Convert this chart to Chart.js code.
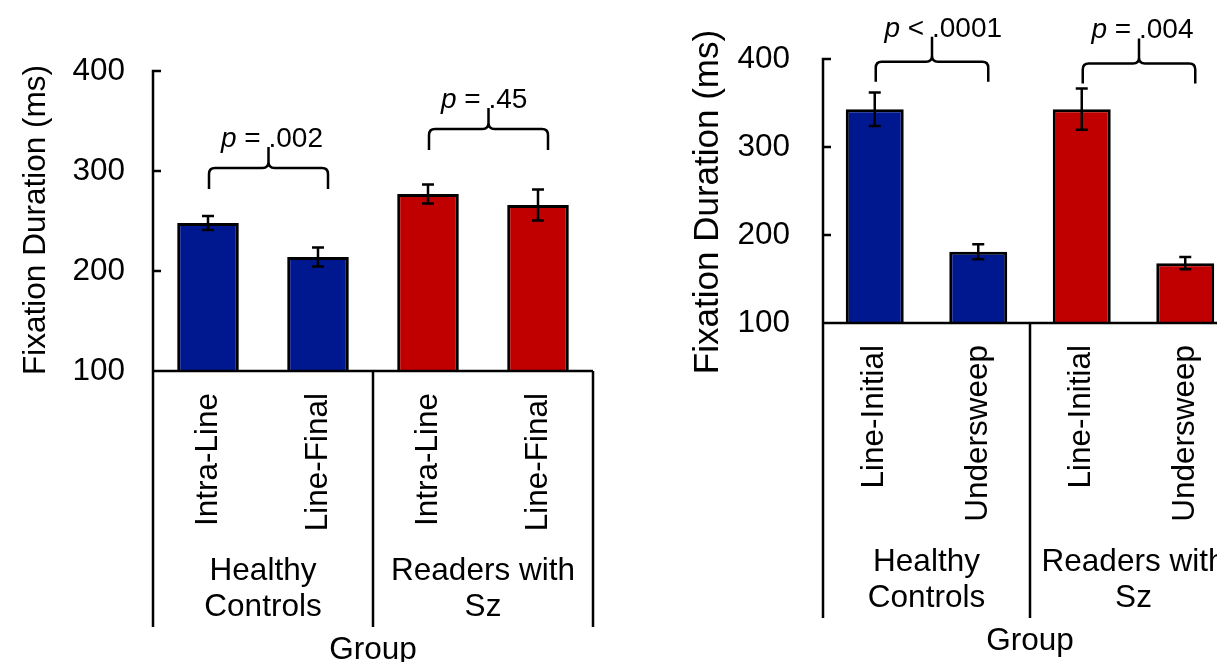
<!DOCTYPE html>
<html>
<head>
<meta charset="utf-8">
<script src="https://cdn.jsdelivr.net/npm/chart.js@4"></script>
<style>
html, body { margin: 0; padding: 0; width: 1217px; height: 662px; overflow: hidden; background: #fff; }
canvas { position: absolute; top: 0; }
#left { left: 0; }
#right { left: 660px; }
</style>
</head>
<body>
<canvas id="left" width="660" height="700"></canvas>
<canvas id="right" width="600" height="700"></canvas>
<script>
// values
const groups = [['Healthy', 'Controls'], ['Readers with', 'Sz']];
const yTicks = [100, 200, 300, 400];
const yTitle = 'Fixation Duration (ms)';

const leftCategories = ['Intra-Line', 'Line-Final', 'Intra-Line', 'Line-Final'];
const leftMeans = [248, 214, 277, 266];
const leftErrors = [7, 9.5, 9.5, 15.5];
const leftPairs = [[0, 1], [2, 3]];
const leftBraceLevels = [303, 342];
const leftPOps = ['=', '='];
const leftPValues = ['.002', '.45'];

const rightCategories = ['Line-Initial', 'Undersweep', 'Line-Initial', 'Undersweep'];
const rightMeans = [343, 181, 343, 168];
const rightErrors = [19, 8.5, 23.5, 7];
const rightPairs = [[0, 1], [2, 3]];
const rightBraceLevels = [397, 395];
const rightPOps = ['<', '='];
const rightPValues = ['.0001', '.004'];

const BLUE = '#00188f';
const RED = '#c00000';
const FONT = 'Liberation Sans, Arial, sans-serif';
const SIZE = 31.5;

Chart.defaults.font.family = FONT;
Chart.defaults.color = '#000';

// error bars, axis frame with group dividers, braces with p values, y title
const decorations = {
  id: 'decorations',
  afterDatasetsDraw(chart, args, o) {
    const { ctx, chartArea: a, scales: { x, x2, y } } = chart;
    ctx.save();
    ctx.strokeStyle = '#000';
    ctx.fillStyle = '#000';
    ctx.lineWidth = 2.5;

    o.means.forEach((m, i) => {
      const px = x.getPixelForValue(i);
      const hi = y.getPixelForValue(m + o.errors[i]);
      const lo = y.getPixelForValue(m - o.errors[i]);
      ctx.beginPath();
      ctx.moveTo(px, hi); ctx.lineTo(px, lo);
      ctx.moveTo(px - 6, hi); ctx.lineTo(px + 6, hi);
      ctx.moveTo(px - 6, lo); ctx.lineTo(px + 6, lo);
      ctx.stroke();
    });

    const foot = x2.top + 77;
    const mid = (x.getPixelForValue(1) + x.getPixelForValue(2)) / 2;
    ctx.beginPath();
    ctx.moveTo(a.left, a.top - 1.25); ctx.lineTo(a.left, foot);
    ctx.moveTo(a.left, a.bottom); ctx.lineTo(a.right, a.bottom);
    ctx.moveTo(mid, a.bottom); ctx.lineTo(mid, foot);
    ctx.moveTo(a.right, a.bottom); ctx.lineTo(a.right, foot);
    yTicks.forEach(v => {
      const py = y.getPixelForValue(v);
      ctx.moveTo(a.left, py); ctx.lineTo(a.left + 8, py);
    });
    ctx.stroke();

    const r = 6;
    o.pairs.forEach(([i, j], k) => {
      const xl = x.getPixelForValue(i) + 1;
      const xr = x.getPixelForValue(j) + 10;
      const xm = (xl + xr) / 2;
      const yh = y.getPixelForValue(o.levels[k]);
      const tip = yh - o.spike;
      ctx.beginPath();
      ctx.moveTo(xl, yh + o.leg);
      ctx.lineTo(xl, yh + r);
      ctx.quadraticCurveTo(xl, yh, xl + r, yh);
      ctx.lineTo(xm - r, yh);
      ctx.quadraticCurveTo(xm, yh, xm, yh - r);
      ctx.lineTo(xm, tip);
      ctx.moveTo(xm, yh - r);
      ctx.quadraticCurveTo(xm, yh, xm + r, yh);
      ctx.lineTo(xr - r, yh);
      ctx.quadraticCurveTo(xr, yh, xr, yh + r);
      ctx.lineTo(xr, yh + o.leg);
      ctx.stroke();

      ctx.textBaseline = 'alphabetic';
      ctx.textAlign = 'left';
      const lead = ' ' + o.ops[k] + ' ';
      ctx.font = 'italic 28px ' + FONT;
      const wp = ctx.measureText('p').width;
      ctx.font = '28px ' + FONT;
      const wl = ctx.measureText(lead).width;
      const x0 = xm - wp - wl;
      ctx.font = 'italic 28px ' + FONT;
      ctx.fillText('p', x0, tip);
      ctx.font = '28px ' + FONT;
      ctx.fillText(lead + o.pvals[k], x0 + wp, tip);
    });

    // y axis title, rotated
    ctx.translate(o.title.cx, o.title.cy);
    ctx.rotate(-Math.PI / 2);
    ctx.font = o.title.size + 'px ' + FONT;
    ctx.textAlign = 'center';
    ctx.textBaseline = 'middle';
    ctx.fillText(yTitle, 0, 0);
    ctx.restore();
  }
};

function makeChart(id, cfg) {
  return new Chart(document.getElementById(id), {
    type: 'bar',
    data: {
      labels: cfg.categories,
      datasets: [{
        data: cfg.means,
        backgroundColor: [BLUE, BLUE, RED, RED],
        borderColor: '#000',
        borderWidth: 3,
        categoryPercentage: 1,
        barPercentage: 0.56
      }]
    },
    options: {
      responsive: false,
      animation: false,
      events: [],
      layout: { padding: cfg.padding },
      scales: {
        y: {
          min: 100,
          max: 400,
          afterBuildTicks: s => { s.ticks = yTicks.map(v => ({ value: v })); },
          afterFit: s => { s.width = cfg.yWidth; },
          grid: { display: false, drawTicks: false },
          border: { display: false },
          ticks: { font: { size: SIZE }, padding: cfg.tickPad }
        },
        x: {
          weight: 0,
          afterFit: s => { s.height = cfg.xHeight; },
          grid: { display: false, drawTicks: false },
          border: { display: false },
          ticks: { font: { size: SIZE }, minRotation: 90, maxRotation: 90, autoSkip: false, padding: 22 }
        },
        x2: {
          type: 'category',
          position: 'bottom',
          weight: 1,
          offset: true,
          labels: groups,
          afterFit: s => { s.height = 119; },
          grid: { display: false, drawTicks: false },
          border: { display: false },
          ticks: { font: { size: SIZE, lineHeight: 1.143 }, padding: 3, maxRotation: 0, autoSkip: false },
          title: { display: true, text: 'Group', font: { size: SIZE }, padding: { top: 0, bottom: 0 } }
        }
      },
      plugins: {
        legend: { display: false },
        tooltip: { enabled: false },
        decorations: {
          means: cfg.means,
          errors: cfg.errors,
          pairs: cfg.pairs,
          levels: cfg.levels,
          ops: cfg.ops,
          pvals: cfg.pvals,
          leg: cfg.leg,
          spike: cfg.spike,
          title: cfg.title
        }
      }
    },
    plugins: [decorations]
  });
}

makeChart('left', {
  categories: leftCategories, means: leftMeans, errors: leftErrors,
  pairs: leftPairs, levels: leftBraceLevels, ops: leftPOps, pvals: leftPValues,
  padding: { left: 0, top: 71, right: 67, bottom: 31 },
  yWidth: 153, tickPad: 28, xHeight: 179, leg: 21, spike: 21,
  title: { size: SIZE, cx: 36, cy: 220 }
});

makeChart('right', {
  categories: rightCategories, means: rightMeans, errors: rightErrors,
  pairs: rightPairs, levels: rightBraceLevels, ops: rightPOps, pvals: rightPValues,
  padding: { left: 0, top: 59, right: 23, bottom: 40 },
  yWidth: 163, tickPad: 33, xHeight: 218, leg: 20, spike: 25,
  title: { size: 35, cx: 48, cy: 202 }
});
</script>
</body>
</html>
